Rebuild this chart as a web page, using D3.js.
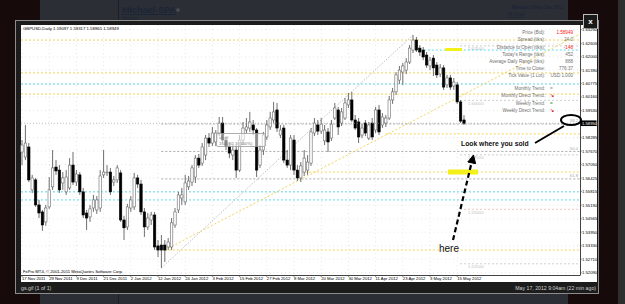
<!DOCTYPE html>
<html>
<head>
<meta charset="utf-8">
<script src="https://cdn.jsdelivr.net/npm/d3@7"></script>
<style>
  html, body { margin: 0; padding: 0; background: #160a0b; overflow: hidden; }
  svg { display: block; }
</style>
</head>
<body>
<div id="chart"></div>
<script>
// GBPUSD Daily, 17 Nov 2011 .. 17 May 2012
const opens = [
  1.5763,1.5740,1.5786,1.5589,1.5635,1.5520,1.5488,1.5442,1.5511,1.5603,
  1.5694,1.5680,1.5621,1.5580,1.5598,1.5703,1.5625,1.5658,1.5580,1.5483,
  1.5465,1.5506,1.5497,1.5506,1.5658,1.5667,1.5671,1.5625,1.5635,1.5667,
  1.5451,1.5419,1.5506,1.5511,1.5644,1.5616,1.5488,1.5419,1.5451,1.5474,
  1.5332,1.5336,1.5336,1.5327,1.5327,1.5428,1.5497,1.5552,1.5534,1.5603,
  1.5625,1.5648,1.5735,1.5712,1.5749,1.5827,1.5804,1.5809,1.5850,1.5896,
  1.5818,1.5790,1.5749,1.5772,1.5680,1.5818,1.5864,1.5873,1.5887,1.5864,
  1.5703,1.5772,1.5832,1.5878,1.5910,1.5956,1.5841,1.5873,1.5726,1.5703,
  1.5818,1.5680,1.5644,1.5671,1.5680,1.5712,1.5850,1.5887,1.5859,1.5814,
  1.5855,1.5827,1.5919,1.5956,1.5896,1.5919,1.5979,1.6002,1.5910,1.5901,
  1.5841,1.5896,1.5827,1.5896,1.5864,1.5956,1.5887,1.5896,1.5919,1.6002,
  1.6039,1.6093,1.6130,1.6139,1.6176,1.6231,1.6277,1.6240,1.6231,1.6208,
  1.6158,1.6194,1.6162,1.6121,1.6149,1.6071,1.6103,1.6066,1.6071,1.5993,
  1.5910
];
const highs = [
  1.5818,1.5887,1.5804,1.5658,1.5644,1.5543,1.5497,1.5520,1.5648,1.5772,
  1.5726,1.5703,1.5671,1.5680,1.5735,1.5763,1.5680,1.5671,1.5598,1.5497,
  1.5520,1.5566,1.5561,1.5680,1.5772,1.5703,1.5690,1.5653,1.5703,1.5680,
  1.5470,1.5525,1.5561,1.5667,1.5658,1.5635,1.5506,1.5483,1.5488,1.5488,
  1.5359,1.5382,1.5359,1.5368,1.5460,1.5506,1.5580,1.5598,1.5658,1.5653,
  1.5703,1.5749,1.5754,1.5804,1.5841,1.5850,1.5878,1.5864,1.5924,1.5924,
  1.5836,1.5809,1.5795,1.5795,1.5841,1.5901,1.5919,1.5947,1.5910,1.5873,
  1.5795,1.5855,1.5910,1.5947,1.5993,1.5988,1.5887,1.5887,1.5772,1.5841,
  1.5841,1.5703,1.5717,1.5772,1.5749,1.5873,1.5919,1.5910,1.5919,1.5887,
  1.5873,1.5910,1.5988,1.5970,1.5965,1.6011,1.6034,1.6039,1.5933,1.5919,
  1.5891,1.5910,1.5901,1.5919,1.5970,1.5979,1.5942,1.5933,1.6020,1.6057,
  1.6130,1.6158,1.6172,1.6194,1.6254,1.6300,1.6291,1.6254,1.6245,1.6222,
  1.6199,1.6208,1.6176,1.6167,1.6162,1.6117,1.6117,1.6103,1.6084,1.6002,
  1.5932
];
const lows = [
  1.5703,1.5726,1.5625,1.5575,1.5511,1.5460,1.5401,1.5424,1.5502,1.5589,
  1.5658,1.5575,1.5589,1.5566,1.5589,1.5612,1.5607,1.5566,1.5460,1.5405,
  1.5442,1.5488,1.5479,1.5488,1.5644,1.5653,1.5566,1.5607,1.5621,1.5442,
  1.5359,1.5405,1.5488,1.5497,1.5598,1.5474,1.5373,1.5405,1.5428,1.5313,
  1.5281,1.5231,1.5258,1.5313,1.5313,1.5415,1.5483,1.5520,1.5520,1.5589,
  1.5607,1.5621,1.5690,1.5699,1.5726,1.5786,1.5790,1.5790,1.5836,1.5804,
  1.5772,1.5735,1.5726,1.5644,1.5671,1.5795,1.5850,1.5855,1.5841,1.5648,
  1.5690,1.5749,1.5818,1.5864,1.5896,1.5855,1.5827,1.5712,1.5690,1.5680,
  1.5658,1.5630,1.5625,1.5653,1.5658,1.5699,1.5836,1.5841,1.5846,1.5795,
  1.5763,1.5814,1.5910,1.5841,1.5882,1.5910,1.5965,1.5901,1.5864,1.5804,
  1.5827,1.5836,1.5818,1.5818,1.5850,1.5841,1.5873,1.5878,1.5910,1.5984,
  1.6025,1.6075,1.6071,1.6121,1.6167,1.6217,1.6222,1.6204,1.6185,1.6149,
  1.6139,1.6112,1.6103,1.6107,1.6048,1.6057,1.6048,1.6048,1.5984,1.5896,
  1.5887
];
const closes = [
  1.5795,1.5804,1.5635,1.5644,1.5520,1.5483,1.5428,1.5506,1.5589,1.5690,
  1.5676,1.5589,1.5644,1.5648,1.5703,1.5625,1.5662,1.5580,1.5474,1.5460,
  1.5502,1.5543,1.5543,1.5653,1.5671,1.5671,1.5580,1.5635,1.5690,1.5451,
  1.5415,1.5511,1.5543,1.5644,1.5616,1.5488,1.5419,1.5460,1.5474,1.5327,
  1.5313,1.5313,1.5313,1.5350,1.5438,1.5488,1.5566,1.5566,1.5621,1.5630,
  1.5690,1.5735,1.5703,1.5786,1.5827,1.5804,1.5850,1.5850,1.5896,1.5818,
  1.5790,1.5758,1.5772,1.5680,1.5818,1.5873,1.5878,1.5901,1.5864,1.5680,
  1.5772,1.5841,1.5887,1.5919,1.5947,1.5873,1.5864,1.5726,1.5703,1.5827,
  1.5680,1.5644,1.5699,1.5735,1.5717,1.5855,1.5896,1.5859,1.5891,1.5864,
  1.5809,1.5891,1.5965,1.5878,1.5947,1.5988,1.6002,1.5910,1.5873,1.5832,
  1.5873,1.5850,1.5887,1.5832,1.5956,1.5855,1.5924,1.5919,1.6002,1.6039,
  1.6117,1.6139,1.6158,1.6176,1.6240,1.6277,1.6231,1.6222,1.6199,1.6162,
  1.6185,1.6149,1.6117,1.6149,1.6061,1.6103,1.6061,1.6084,1.5993,1.5905,
  1.5895
];

// time axis labels, one every 8 bars
const dateLabels = ['17 Nov 2011','29 Nov 2011','9 Dec 2011','21 Dec 2011','2 Jan 2012','12 Jan 2012',
  '24 Jan 2012','3 Feb 2012','15 Feb 2012','27 Feb 2012','8 Mar 2012','20 Mar 2012','30 Mar 2012',
  '11 Apr 2012','23 Apr 2012','3 May 2012','15 May 2012'];
const dateStep = 8;

// price axis labels
const priceLabels = ['1.63250','1.62605','1.62000','1.61390','1.60775','1.60160','1.59530','1.58910',
  '1.58285','1.57670','1.57050','1.56425','1.55815','1.55190','1.54565','1.53950','1.53330','1.52710','1.52090'];

// horizontal level objects on the chart
const levelPrices = [1.6277, 1.6126, 1.6029, 1.5846, 1.5671, 1.5313, 1.6231, 1.6075, 1.5580, 1.5543];
const levelKinds  = ['gold','gold','gold','gold','gold','gold','aqua','aqua','aqua','aqua'];
const levelFrom   = [0, 0, 0, 107, 82, 42, 117, 0, 0, 0];

// round number levels
const roundPrices = [1.625, 1.600, 1.575, 1.550, 1.525];
const roundLabels = ['1.62500','1.60000','1.57500','1.55000','1.52500'];

// fibonacci object: low bar -> high bar
const fibBars = [41, 115];
const fibPrices = [1.5231, 1.6300];
const fibRatios = [0.382, 0.5, 0.618];
const fibLabels = ['38.2', '50.0', '61.8'];

// trend line (gold, extended to the right)
const trendBars = [42, 107];
const trendPrices = [1.5313, 1.5841];

// info panel of the indicator
const infoLabels = ['Price (Bid):','Spread (tiks):','Distance to Open (tiks):','Today\'s Range (tiks):',
  'Average Daily Range (tiks):','Time to Close:','Tick Value (1 Lot):'];
const infoValues = ['1.58949','24.0','-148','452','888','776:37','USD 1.000'];
const infoRed = [true, false, true, false, false, false, false];
const trendLabels = ['Monthly Trend:','Monthly Direct Trend:','Weekly Trend:','Weekly Direct Trend:'];
const trendValues = ['=','\u2198','=','\u2198'];
const trendColors = ['#8a8a8a','#e02020','#2a9a2a','#e02020'];

const W = 625, H = 304;
const plot = { left: 21, right: 580, top: 25, bottom: 275 };
const FONT = '"Liberation Sans", Arial, sans-serif';
const colors = { gold: '#f2cf4a', aqua: '#4fd6ee', fib: '#9a9a9a', round: '#c4c4c4' };

const svg = d3.select('#chart').append('svg')
  .attr('width', W).attr('height', H)
  .attr('viewBox', `0 0 ${W} ${H}`);

// ---- page behind the lightbox ----
svg.append('rect').attr('width', W).attr('height', H).attr('fill', '#160a0b');
[[0, 21], [293, 11]].forEach(([y0, h]) => {
  svg.append('rect').attr('x', 40).attr('y', y0).attr('width', 528).attr('height', h).attr('fill', '#2b2f35');
  svg.append('line').attr('x1', 118.5).attr('x2', 118.5).attr('y1', y0).attr('y2', y0 + h)
    .attr('stroke', '#1c1f23');
});
svg.append('rect').attr('x', 618).attr('y', 0).attr('width', 7).attr('height', H).attr('fill', '#2e2e2e');
svg.append('text').attr('x', 122).attr('y', 13).text('Michael-SPA')
  .style('font-family', FONT).style('font-size', '9px').style('font-weight', 'bold')
  .style('fill', '#1c2436').style('text-decoration', 'underline');
svg.append('circle').attr('cx', 178).attr('cy', 10).attr('r', 1.8).attr('fill', '#4a4e55');
svg.append('text').attr('x', 122).attr('y', 19.5).text('Member')
  .style('font-family', FONT).style('font-size', '4.5px').style('fill', '#1c2436');
svg.append('text').attr('x', 563).attr('y', 9).attr('text-anchor', 'end').text('Member Since Jan 2011')
  .style('font-family', FONT).style('font-size', '4.6px').style('font-weight', 'bold').style('fill', '#1c2436');
svg.append('text').attr('x', 507).attr('y', 16).text('38 Posts')
  .style('font-family', FONT).style('font-size', '4.6px').style('fill', '#1c2436').style('text-decoration', 'underline');

// ---- lightbox frame ----
svg.append('rect').attr('x', 15.5).attr('y', 20.5).attr('width', 583).attr('height', 273)
  .attr('fill', '#1c1c1c').attr('stroke', '#8c8c8c');
svg.append('rect').attr('x', 21).attr('y', 25).attr('width', 576).attr('height', 257).attr('fill', '#ffffff');

svg.append('text').attr('x', 21).attr('y', 289.5).text('gs.gif (1 of 1)')
  .style('font-family', FONT).style('font-size', '5.2px').style('fill', '#cfcfcf');
svg.append('text').attr('x', 596).attr('y', 289.5).attr('text-anchor', 'end')
  .text('May 17, 2012 9:04am (22 min ago)')
  .style('font-family', FONT).style('font-size', '5.2px').style('fill', '#cfcfcf');

// close button
svg.append('rect').attr('x', 583.5).attr('y', 14.5).attr('width', 14).attr('height', 14)
  .attr('fill', '#1a1a1a').attr('stroke', '#bdbdbd');
svg.append('text').attr('x', 590.5).attr('y', 24).attr('text-anchor', 'middle').text('x')
  .style('font-family', FONT).style('font-size', '8px').style('font-weight', 'bold').style('fill', '#fff');

// ---- scales ----
const x = d3.scaleLinear().domain([0, closes.length - 1]).range([22, 464]);
const y = d3.scaleLinear().domain([1.6323, 1.5209]).range([30, 272.7]);

const g = svg.append('g');

// grid
g.selectAll('.hgrid').data(priceLabels).enter().append('line')
  .attr('x1', plot.left).attr('x2', plot.right)
  .attr('y1', d => y(+d)).attr('y2', d => y(+d))
  .attr('stroke', '#d6d6d6').attr('stroke-width', 0.6).attr('stroke-dasharray', '1,3');
g.selectAll('.vgrid').data(dateLabels).enter().append('line')
  .attr('x1', (d, i) => x(i * dateStep)).attr('x2', (d, i) => x(i * dateStep))
  .attr('y1', plot.top).attr('y2', plot.bottom)
  .attr('stroke', '#d6d6d6').attr('stroke-width', 0.6).attr('stroke-dasharray', '1,3');

// round number levels
g.selectAll('.round').data(roundPrices).enter().append('line')
  .attr('x1', 460).attr('x2', plot.right)
  .attr('y1', d => y(d)).attr('y2', d => y(d))
  .attr('stroke', (d, i) => i === 3 ? '#f0b8b8' : colors.round)
  .attr('stroke-width', 0.8).attr('stroke-dasharray', '2,2');
g.selectAll('.roundLabel').data(roundLabels).enter().append('text')
  .attr('x', 468).attr('y', (d, i) => y(roundPrices[i]) + 4.5).text(d => d)
  .style('font-family', FONT).style('font-size', '4.3px').style('fill', '#bdbdbd');

// fibonacci
const fibHigh = fibPrices[1], fibRange = fibPrices[1] - fibPrices[0];
g.append('line')
  .attr('x1', x(fibBars[0])).attr('y1', y(fibPrices[0]))
  .attr('x2', x(fibBars[1])).attr('y2', y(fibPrices[1]))
  .attr('stroke', '#b0b0b0').attr('stroke-width', 0.8).attr('stroke-dasharray', '1.5,1.5');
g.selectAll('.fib').data(fibRatios).enter().append('line')
  .attr('x1', x(fibBars[0])).attr('x2', plot.right)
  .attr('y1', d => y(fibHigh - d * fibRange)).attr('y2', d => y(fibHigh - d * fibRange))
  .attr('stroke', colors.fib).attr('stroke-width', 0.8).attr('stroke-dasharray', '2,2');
g.selectAll('.fibLabel').data(fibLabels).enter().append('text')
  .attr('x', 578).attr('text-anchor', 'end')
  .attr('y', (d, i) => y(fibHigh - fibRatios[i] * fibRange) - 1.5).text(d => d)
  .style('font-family', FONT).style('font-size', '4.2px').style('fill', '#a8a8a8');

// horizontal levels
g.selectAll('.level').data(levelPrices).enter().append('line')
  .attr('x1', (d, i) => levelFrom[i] === 0 ? plot.left : x(levelFrom[i])).attr('x2', plot.right)
  .attr('y1', d => y(d)).attr('y2', d => y(d))
  .attr('stroke', (d, i) => colors[levelKinds[i]])
  .attr('stroke-width', 0.9).attr('stroke-dasharray', '2,2');

// trend line, extended to the right edge
const slope = (trendPrices[1] - trendPrices[0]) / (trendBars[1] - trendBars[0]);
const lastBar = x.invert(plot.right);
g.append('line')
  .attr('x1', x(trendBars[0])).attr('y1', y(trendPrices[0]))
  .attr('x2', plot.right).attr('y2', y(trendPrices[0] + slope * (lastBar - trendBars[0])))
  .attr('stroke', colors.gold).attr('stroke-width', 0.9).attr('stroke-dasharray', '2,2');

// yellow highlights
g.append('rect').attr('x', 445).attr('y', 48).attr('width', 17).attr('height', 3).attr('fill', '#f3f01a');
g.append('rect').attr('x', 448).attr('y', 169.5).attr('width', 30).attr('height', 5).attr('fill', '#f3f01a');

// ---- candles ----
const bars = closes.map((c, i) => ({ i, o: opens[i], h: highs[i], l: lows[i], c }));
const candle = g.selectAll('.candle').data(bars).enter().append('g').attr('class', 'candle');
candle.append('line')
  .attr('x1', d => x(d.i)).attr('x2', d => x(d.i))
  .attr('y1', d => y(d.h)).attr('y2', d => y(d.l))
  .attr('stroke', '#4a4a4a').attr('stroke-width', 0.8);
candle.append('rect')
  .attr('x', d => x(d.i) - 1.2).attr('width', 2.4)
  .attr('y', d => y(Math.max(d.o, d.c)))
  .attr('height', d => Math.max(0.8, Math.abs(y(d.o) - y(d.c))))
  .attr('fill', d => d.c >= d.o ? '#ffffff' : '#000000')
  .attr('stroke', d => d.c >= d.o ? '#6a6a6a' : '#000000').attr('stroke-width', 0.6);

// current bid line
const bid = closes[closes.length - 1];
g.append('line').attr('x1', plot.left).attr('x2', plot.right).attr('y1', y(bid)).attr('y2', y(bid))
  .attr('stroke', '#9a9a9a').attr('stroke-width', 0.6).attr('stroke-dasharray', '1,2');

// ---- frame and axes ----
g.append('line').attr('x1', plot.right + 0.5).attr('x2', plot.right + 0.5)
  .attr('y1', plot.top).attr('y2', plot.bottom).attr('stroke', '#444');
g.append('line').attr('x1', plot.left).attr('x2', plot.right + 0.5)
  .attr('y1', plot.bottom + 0.5).attr('y2', plot.bottom + 0.5).attr('stroke', '#444');

g.selectAll('.pl').data(priceLabels).enter().append('text')
  .attr('x', 582).attr('y', d => y(+d)).attr('dy', '0.35em').text(d => d)
  .style('font-family', FONT).style('font-size', '4.2px').style('fill', '#000');
g.selectAll('.pt').data(priceLabels).enter().append('line')
  .attr('x1', plot.right).attr('x2', plot.right + 1.8)
  .attr('y1', d => y(+d)).attr('y2', d => y(+d)).attr('stroke', '#444').attr('stroke-width', 0.6);

g.append('rect').attr('x', 580.5).attr('y', y(bid) - 2.8).attr('width', 16).attr('height', 5.6).attr('fill', '#000');
g.append('text').attr('x', 582).attr('y', y(bid)).attr('dy', '0.35em').text(bid.toFixed(5))
  .style('font-family', FONT).style('font-size', '4.2px').style('fill', '#fff');

g.selectAll('.dl').data(dateLabels).enter().append('text')
  .attr('x', (d, i) => x(i * dateStep)).attr('y', 280.2).text(d => d)
  .style('font-family', FONT).style('font-size', '4.2px').style('fill', '#000');
g.selectAll('.dt').data(dateLabels).enter().append('line')
  .attr('x1', (d, i) => x(i * dateStep)).attr('x2', (d, i) => x(i * dateStep))
  .attr('y1', plot.bottom).attr('y2', plot.bottom + 2).attr('stroke', '#444').attr('stroke-width', 0.6);

// header and copyright
g.append('text').attr('x', 23).attr('y', 29.5)
  .text('GBPUSD,Daily  1.59097 1.59317 1.58865 1.58949')
  .style('font-family', FONT).style('font-size', '4.3px').style('fill', '#000');
g.append('text').attr('x', 23).attr('y', 273)
  .text('FxPro MT4, \u00a9 2001-2011 MetaQuotes Software Corp.')
  .style('font-family', FONT).style('font-size', '4.2px').style('fill', '#000');

// ---- indicator info panel ----
const infoRowY = i => 32.5 + i * 7.2;
g.selectAll('.il').data(infoLabels).enter().append('text')
  .attr('x', 545).attr('y', (d, i) => infoRowY(i)).attr('dy', '0.35em').attr('text-anchor', 'end').text(d => d)
  .style('font-family', FONT).style('font-size', '4.6px').style('fill', '#707070');
g.selectAll('.iv').data(infoValues).enter().append('text')
  .attr('x', 573).attr('y', (d, i) => infoRowY(i)).attr('dy', '0.35em').attr('text-anchor', 'end').text(d => d)
  .style('font-family', FONT).style('font-size', '4.6px')
  .style('fill', (d, i) => infoRed[i] ? '#ff2020' : '#707070');
const trendRowY = i => 88.5 + i * 7.2;
g.selectAll('.tl').data(trendLabels).enter().append('text')
  .attr('x', 545).attr('y', (d, i) => trendRowY(i)).attr('dy', '0.35em').attr('text-anchor', 'end').text(d => d)
  .style('font-family', FONT).style('font-size', '4.6px').style('fill', '#707070');
g.selectAll('.tv').data(trendValues).enter().append('text')
  .attr('x', 550).attr('y', (d, i) => trendRowY(i)).attr('dy', '0.35em').text(d => d)
  .style('font-family', FONT).style('font-size', '4.6px').style('font-weight', 'bold')
  .style('fill', (d, i) => trendColors[i]);

// object label box
g.append('rect').attr('x', 216.5).attr('y', 133.5).attr('width', 49).attr('height', 13).attr('rx', 1.5)
  .attr('fill', 'rgba(255,255,255,0.55)').attr('stroke', '#9a9a9a').attr('stroke-width', 0.8);
g.append('text').attr('x', 219).attr('y', 139).text('sk-uf')
  .style('font-family', FONT).style('font-size', '4.2px').style('fill', '#777');
g.append('text').attr('x', 219).attr('y', 144.5).text('1500;61.3;(100%)')
  .style('font-family', FONT).style('font-size', '4.2px').style('fill', '#777');

// ---- hand drawn annotations ----
const ann = svg.append('g');
ann.append('ellipse').attr('cx', 571).attr('cy', 120).attr('rx', 10).attr('ry', 5)
  .attr('fill', 'none').attr('stroke', '#000').attr('stroke-width', 2);
ann.append('line').attr('x1', 535).attr('y1', 143).attr('x2', 564).attr('y2', 126)
  .attr('stroke', '#000').attr('stroke-width', 2);
ann.append('text').attr('x', 461).attr('y', 146).text('Look where you sold')
  .style('font-family', FONT).style('font-size', '6.8px').style('font-weight', 'bold').style('fill', '#111');
ann.append('line').attr('x1', 453).attr('y1', 240).attr('x2', 471.5).attr('y2', 163)
  .attr('stroke', '#000').attr('stroke-width', 2.2).attr('stroke-dasharray', '5,3');
ann.append('polygon').attr('points', '473.5,155 475.6,163.7 467.8,162')
  .attr('fill', '#000').attr('stroke', '#000').attr('stroke-width', 1);
ann.append('text').attr('x', 439).attr('y', 252).text('here')
  .style('font-family', FONT).style('font-size', '10px').style('fill', '#111');
</script>
</body>
</html>
